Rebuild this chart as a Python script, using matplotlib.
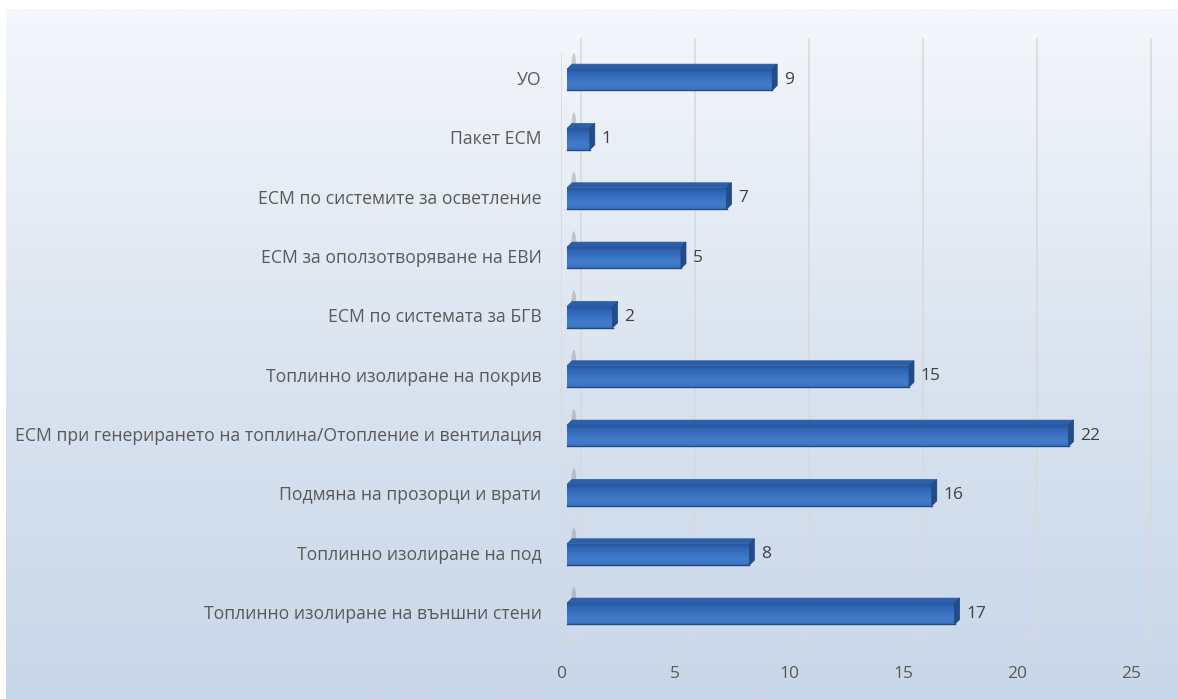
import numpy as np
import matplotlib.pyplot as plt
from matplotlib.patches import Polygon, Rectangle, Ellipse
from matplotlib.colors import LinearSegmentedColormap

plt.rcParams['font.family'] = ['Open Sans', 'DejaVu Sans']

# data, bottom to top
categories = [
    'Топлинно изолиране на външни стени',
    'Топлинно изолиране на под',
    'Подмяна на прозорци и врати',
    'ЕСМ при генерирането на топлина/Отопление и вентилация',
    'Топлинно изолиране на покрив',
    'ЕСМ по системата за БГВ',
    'ЕСМ за оползотворяване на ЕВИ',
    'ЕСМ по системите за осветление',
    'Пакет ЕСМ',
    'УО',
]
values = [17, 8, 16, 22, 15, 2, 5, 7, 1, 9]
xticks = [0, 5, 10, 15, 20, 25]

W, H = 1178, 699
fig = plt.figure(figsize=(W / 100, H / 100), dpi=100, facecolor='white')

# chart area gradient background
bg = fig.add_axes([6 / W, 0, 1 - 6 / W, 1 - 9 / H])
bg_cmap = LinearSegmentedColormap.from_list('bg', ['#c8d7e9', '#dbe4f0', '#f4f7fb'])
bg.imshow(np.linspace(0, 1, 256).reshape(-1, 1)[::-1], aspect='auto', cmap=bg_cmap,
          extent=(0, 1, 0, 1))
bg.axis('off')

# pixel scale: 22.8 px per x unit, 59.33 px per category
px_x = 22.8
px_y = 59.33
y0, y1 = -0.607, 9.9
x0, x1 = 0, 26.3
ax_left = 561 / W
ax_bottom = (H - 648) / H
ax = fig.add_axes([ax_left, ax_bottom, (x1 - x0) * px_x / W, (y1 - y0) * px_y / H])
ax.patch.set_alpha(0)

# 3d depth of the plot box
dep_x = 20 / px_x
dep_y = 15 / px_y
grid_c = '#d9d9d9'
y_back_top = 9.66
for t in xticks:
    ax.plot([t + dep_x, t + dep_x], [y_back_top, y0 + dep_y], color=grid_c, lw=1.2, zorder=1)
    ax.plot([t + dep_x, t], [y0 + dep_y, y0], color=grid_c, lw=1.2, zorder=1)
ax.plot([0, 0], [y_back_top - dep_y, y0], color=grid_c, lw=1.2, zorder=1)

# bars
ypos = np.arange(len(categories))
bar_left = 6 / px_x
bar_h = 0.36
bar_yoff = -0.03
side_x = 5 / px_x
side_y = 5 / px_y
face_cmap = LinearSegmentedColormap.from_list('face', ['#25529a', '#3068b6', '#3a73c3', '#417cca', '#3a72c2'])
grad = np.linspace(0, 1, 64).reshape(-1, 1)

for y, v in zip(ypos, values):
    yb = y + bar_yoff - bar_h / 2
    yt = yb + bar_h
    xl = bar_left
    xr = bar_left + v
    # shadow on the left wall
    ax.add_patch(Ellipse((xl + 0.3, yt + 0.02), 0.22, 0.5, color='#6f6f6f', alpha=0.3, lw=0, zorder=2))
    # front face
    rect = Rectangle((xl, yb), v, bar_h, facecolor='#3a72c2', edgecolor='none', zorder=3)
    ax.add_patch(rect)
    im = ax.imshow(grad, aspect='auto', cmap=face_cmap, extent=(xl, xr, yb, yt), zorder=3.5)
    im.set_clip_path(rect)
    ax.plot([xl, xr], [yb, yb], color='#1f4a86', lw=1, zorder=4)
    # top face
    ax.add_patch(Polygon([(xl, yt), (xl + side_x, yt + side_y), (xr + side_x, yt + side_y), (xr, yt)],
                         closed=True, facecolor='#2d5ea8', edgecolor='#2b5a9f', lw=0.5, zorder=4))
    # right face
    ax.add_patch(Polygon([(xr, yb), (xr, yt), (xr + side_x, yt + side_y), (xr + side_x, yb + side_y)],
                         closed=True, facecolor='#224c8a', edgecolor='#1f4580', lw=0.5, zorder=4))
    ax.text(xr + side_x + 0.3, y + bar_yoff, str(v), va='center', ha='left',
            fontsize=12.5, color='#404040', zorder=5)

ax.set_xlim(x0, x1)
ax.set_ylim(y0, y1)
ax.set_xticks(xticks)
ax.set_xticklabels([str(t) for t in xticks], fontsize=12.5, color='#595959')
ax.set_yticks(ypos)
ax.set_yticklabels(categories, fontsize=12.7, color='#595959')
ax.tick_params(axis='x', length=0, pad=13)
ax.tick_params(axis='y', length=0, pad=14)
for s in ax.spines.values():
    s.set_visible(False)

fig.savefig('out.png', dpi=100, facecolor='white')
